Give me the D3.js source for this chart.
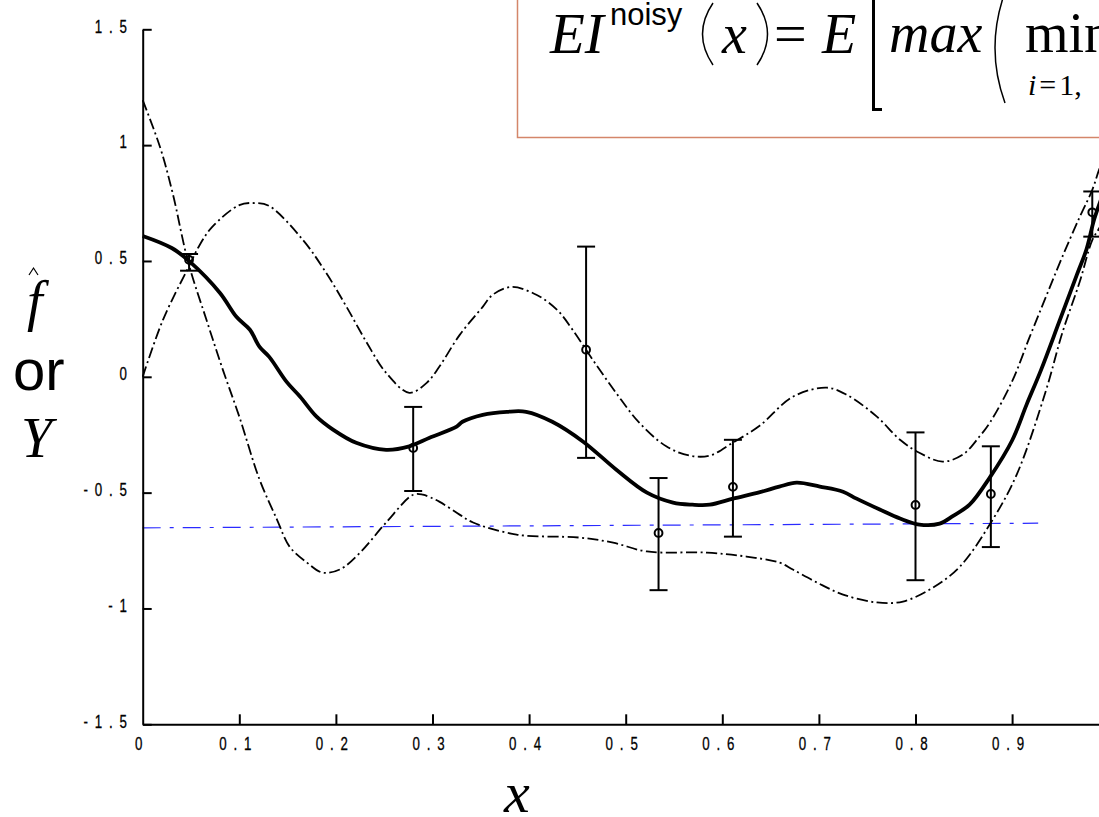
<!DOCTYPE html>
<html>
<head>
<meta charset="utf-8">
<script src="https://cdn.jsdelivr.net/npm/d3@7"></script>
<style>
  html, body { margin: 0; padding: 0; background: #fff; }
  svg { display: block; }
</style>
</head>
<body>
<svg id="chart" width="1099" height="817"></svg>
<script>
// ---- data ----
const xTicks = [0, 0.1, 0.2, 0.3, 0.4, 0.5, 0.6, 0.7, 0.8, 0.9];
const xTickLabels = ["0", "0.1", "0.2", "0.3", "0.4", "0.5", "0.6", "0.7", "0.8", "0.9"];
const yTicks = [-1.5, -1, -0.5, 0, 0.5, 1, 1.5];
const yTickLabels = ["-1.5", "-1", "-0.5", "0", "0.5", "1", "1.5"];

// kriging mean (thick solid)
const meanX = [0, 0.03, 0.049, 0.08, 0.097, 0.111, 0.121, 0.131, 0.149, 0.163, 0.18, 0.197, 0.221, 0.252, 0.276, 0.297, 0.325, 0.331, 0.352, 0.377, 0.397, 0.424, 0.456, 0.49, 0.522, 0.549, 0.569, 0.587, 0.611, 0.639, 0.659, 0.677, 0.701, 0.725, 0.739, 0.763, 0.784, 0.804, 0.825, 0.839, 0.856, 0.877, 0.9, 0.915, 0.93, 0.949, 0.967, 0.977, 0.985, 0.995, 1.0];
const meanY = [0.608, 0.556, 0.496, 0.362, 0.259, 0.203, 0.129, 0.086, -0.022, -0.086, -0.172, -0.228, -0.285, -0.315, -0.3, -0.263, -0.215, -0.194, -0.164, -0.151, -0.151, -0.194, -0.28, -0.4, -0.5, -0.543, -0.552, -0.552, -0.526, -0.498, -0.474, -0.457, -0.474, -0.496, -0.526, -0.573, -0.612, -0.638, -0.634, -0.6, -0.552, -0.434, -0.275, -0.12, 0.03, 0.24, 0.44, 0.55, 0.68, 0.8, 0.86];

// upper confidence bound (dash-dot)
const upperX = [0, 0.021, 0.047, 0.059, 0.072, 0.1, 0.116, 0.131, 0.166, 0.19, 0.211, 0.232, 0.252, 0.276, 0.294, 0.307, 0.328, 0.352, 0.362, 0.382, 0.408, 0.429, 0.445, 0.466, 0.49, 0.514, 0.542, 0.566, 0.587, 0.611, 0.639, 0.673, 0.708, 0.729, 0.76, 0.784, 0.804, 0.828, 0.849, 0.866, 0.877, 0.9, 0.918, 0.935, 0.952, 0.97, 0.983, 0.99, 1.0];
const upperY = [0.0, 0.246, 0.47, 0.569, 0.647, 0.741, 0.75, 0.737, 0.59, 0.448, 0.302, 0.147, 0.017, -0.069, -0.026, 0.043, 0.18, 0.302, 0.353, 0.388, 0.353, 0.289, 0.203, 0.073, -0.069, -0.198, -0.3, -0.34, -0.34, -0.284, -0.21, -0.086, -0.047, -0.078, -0.172, -0.272, -0.328, -0.366, -0.336, -0.259, -0.198, -0.02, 0.17, 0.345, 0.518, 0.69, 0.807, 0.893, 1.0];

// lower confidence bound (dash-dot)
const lowerX = [0, 0.018, 0.031, 0.047, 0.066, 0.083, 0.1, 0.121, 0.139, 0.152, 0.17, 0.186, 0.204, 0.225, 0.252, 0.28, 0.29, 0.307, 0.328, 0.342, 0.387, 0.452, 0.487, 0.522, 0.584, 0.625, 0.659, 0.673, 0.698, 0.725, 0.76, 0.787, 0.818, 0.846, 0.88, 0.905, 0.935, 0.952, 0.97, 0.983, 0.99, 1.0];
const lowerY = [1.194, 0.991, 0.793, 0.496, 0.246, 0.03, -0.172, -0.444, -0.616, -0.733, -0.802, -0.845, -0.832, -0.759, -0.629, -0.509, -0.509, -0.539, -0.595, -0.629, -0.681, -0.694, -0.716, -0.754, -0.759, -0.776, -0.802, -0.832, -0.888, -0.94, -0.974, -0.97, -0.91, -0.819, -0.616, -0.42, -0.06, 0.19, 0.41, 0.59, 0.64, 0.72];

// noisy observations with error bars
const obsX  = [0.048, 0.28, 0.459, 0.534, 0.611, 0.80, 0.878, 0.983];
const obsY  = [0.505, -0.307, 0.117, -0.674, -0.475, -0.553, -0.506, 0.71];
const obsHi = [0.53, -0.13, 0.562, -0.437, -0.272, -0.24, -0.30, 0.80];
const obsLo = [0.458, -0.493, -0.35, -0.921, -0.69, -0.878, -0.735, 0.605];

// current-minimum threshold (blue dash-dot)
const thrX = [0, 0.927];
const thrY = [-0.652, -0.632];

// ---- drawing ----
const svg = d3.select("#chart");
svg.append("rect").attr("width", 1099).attr("height", 817).attr("fill", "#fff");

const x = d3.scaleLinear().domain([0, 1]).range([142.7, 1108.7]);
const y = d3.scaleLinear().domain([-1.5, 1.5]).range([724.3, 29.3]);

const zip = (xs, ys) => xs.map((v, i) => [v, ys[i]]);
const line = d3.line().x(d => x(d[0])).y(d => y(d[1])).curve(d3.curveCatmullRom.alpha(0.5));
const lineLin = d3.line().x(d => x(d[0])).y(d => y(d[1]));

const plot = svg.append("g");

// threshold
plot.append("path").datum(zip(thrX, thrY)).attr("d", lineLin)
  .attr("fill", "none").attr("stroke", "#2b2bff").attr("stroke-width", 1.2)
  .attr("stroke-dasharray", "18,9,4,9");

// confidence bounds
[zip(upperX, upperY), zip(lowerX, lowerY)].forEach(d => {
  plot.append("path").datum(d).attr("d", line)
    .attr("fill", "none").attr("stroke", "#000").attr("stroke-width", 1.8)
    .attr("stroke-dasharray", "11,3.5,2,3.5");
});

// mean
plot.append("path").datum(zip(meanX, meanY)).attr("d", line)
  .attr("fill", "none").attr("stroke", "#000").attr("stroke-width", 3.8)
  .attr("stroke-linejoin", "round");

// error bars
const obs = obsX.map((v, i) => ({x: v, y: obsY[i], hi: obsHi[i], lo: obsLo[i]}));
const eb = plot.selectAll("g.eb").data(obs).join("g").attr("class", "eb");
eb.append("line").attr("x1", d => x(d.x)).attr("x2", d => x(d.x))
  .attr("y1", d => y(d.hi)).attr("y2", d => y(d.lo))
  .attr("stroke", "#000").attr("stroke-width", 2);
eb.append("line").attr("x1", d => x(d.x) - 9).attr("x2", d => x(d.x) + 9)
  .attr("y1", d => y(d.hi)).attr("y2", d => y(d.hi))
  .attr("stroke", "#000").attr("stroke-width", 2);
eb.append("line").attr("x1", d => x(d.x) - 9).attr("x2", d => x(d.x) + 9)
  .attr("y1", d => y(d.lo)).attr("y2", d => y(d.lo))
  .attr("stroke", "#000").attr("stroke-width", 2);
eb.append("circle").attr("cx", d => x(d.x)).attr("cy", d => y(d.y)).attr("r", 3.9)
  .attr("fill", "none").attr("stroke", "#000").attr("stroke-width", 2);

// axes
const tickFont = "'Liberation Sans', Arial, sans-serif";
function squeeze(sel) {
  sel.selectAll(".tick text").each(function() {
    const t = d3.select(this);
    const tx = +t.attr("x") || 0;
    t.attr("x", 0).attr("transform", `translate(${tx},0) scale(0.72,1)`);
  });
}

const yAxis = svg.append("g").attr("transform", `translate(${x(0)},0)`)
  .call(d3.axisLeft(y).tickValues(yTicks).tickSize(-9).tickSizeOuter(0).tickPadding(9)
    .tickFormat((d, i) => yTickLabels[i]));
yAxis.selectAll("path, line").attr("stroke", "#000").attr("stroke-width", 2);
yAxis.selectAll("text").attr("font-family", tickFont).attr("font-size", 18.5)
  .attr("letter-spacing", 9.5).attr("fill", "#000").attr("stroke", "#000").attr("stroke-width", 0.3)
  .attr("dy", "0.15em");
squeeze(yAxis);

const xAxis = svg.append("g").attr("transform", `translate(0,${y(-1.5)})`)
  .call(d3.axisBottom(x).tickValues(xTicks).tickSize(-10).tickSizeOuter(0).tickPadding(13)
    .tickFormat((d, i) => xTickLabels[i]));
xAxis.selectAll("path, line").attr("stroke", "#000").attr("stroke-width", 2);
xAxis.selectAll("text").attr("font-family", tickFont).attr("font-size", 18.5)
  .attr("letter-spacing", 9.5).attr("fill", "#000").attr("stroke", "#000").attr("stroke-width", 0.3)
  .attr("dx", -1.5);
squeeze(xAxis);
xAxis.selectAll(".tick").filter(d => d === 0).select("line").remove();

// axis titles
const serif = "'Liberation Serif', 'Times New Roman', serif";
svg.append("text").attr("x", 27).attr("y", 320).attr("font-family", serif)
  .attr("font-style", "italic").attr("font-size", 56).text("f");
svg.append("path").attr("d", "M29,275 L33.5,268 L38,275").attr("fill", "none")
  .attr("stroke", "#000").attr("stroke-width", 1.2);
svg.append("text").attr("x", 13).attr("y", 390).attr("font-family", tickFont)
  .attr("font-size", 58).text("or");
svg.append("text").attr("x", 21).attr("y", 457).attr("font-family", serif)
  .attr("font-style", "italic").attr("font-size", 56).text("Y");
svg.append("text").attr("x", 504).attr("y", 812).attr("font-family", serif)
  .attr("font-style", "italic").attr("font-size", 58).text("x");

// formula box
const fb = svg.append("g");
fb.append("rect").attr("x", 517.5).attr("y", -10).attr("width", 700).attr("height", 147.5)
  .attr("fill", "#fff").attr("stroke", "#d4866a").attr("stroke-width", 1.5);
fb.append("text").attr("x", 550).attr("y", 53).attr("font-family", serif)
  .attr("font-style", "italic").attr("font-size", 57).text("EI");
fb.append("text").attr("x", 610).attr("y", 25).attr("font-family", tickFont)
  .attr("font-size", 31).text("noisy");
fb.append("path").attr("d", "M713,3 Q692,34 713,65").attr("fill", "none").attr("stroke", "#000").attr("stroke-width", 1.5);
fb.append("text").attr("x", 722).attr("y", 53).attr("font-family", serif)
  .attr("font-style", "italic").attr("font-size", 56).text("x");
fb.append("path").attr("d", "M757,3 Q778,34 757,65").attr("fill", "none").attr("stroke", "#000").attr("stroke-width", 1.5);
fb.append("text").attr("x", 774).attr("y", 53).attr("font-family", serif)
  .attr("font-size", 58).text("=");
fb.append("text").attr("x", 822).attr("y", 53).attr("font-family", serif)
  .attr("font-style", "italic").attr("font-size", 56).text("E");
fb.append("path").attr("d", "M873.5,-5 V109.5 H882").attr("fill", "none").attr("stroke", "#000").attr("stroke-width", 3);
fb.append("text").attr("x", 889).attr("y", 52).attr("font-family", serif)
  .attr("font-style", "italic").attr("font-size", 56).text("max");
fb.append("path").attr("d", "M1005,-8 Q985,48 1005,103").attr("fill", "none").attr("stroke", "#000").attr("stroke-width", 1.5);
fb.append("text").attr("x", 1025).attr("y", 52).attr("font-family", serif)
  .attr("font-size", 56).text("min");
const sub = fb.append("text").attr("x", 1028).attr("y", 95).attr("font-family", serif).attr("font-size", 30);
sub.append("tspan").attr("font-style", "italic").text("i");
sub.append("tspan").attr("dx", 3).text("=");
sub.append("tspan").attr("dx", 3).text("1,");
</script>
</body>
</html>
